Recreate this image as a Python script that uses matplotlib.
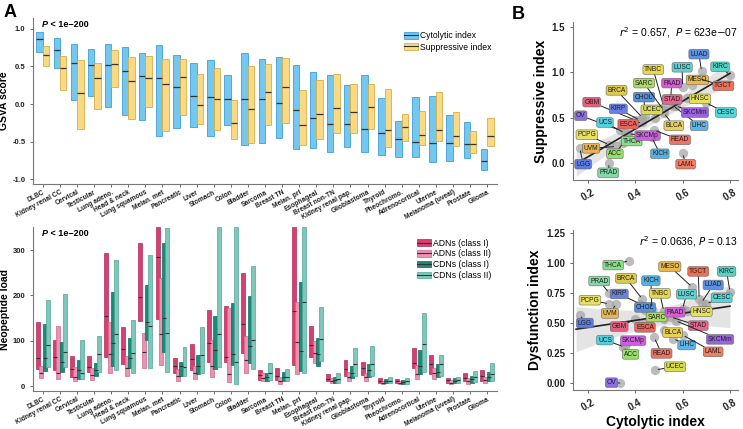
import numpy as np
import matplotlib
matplotlib.use("Agg")
import matplotlib.pyplot as plt
from matplotlib.patches import Patch
from matplotlib.lines import Line2D

plt.rcParams['font.family'] = ['Liberation Sans', 'DejaVu Sans']

# ---------------- panel A data ----------------
cancers = ["DLBC", "Kidney renal CC", "Cervical", "Testicular", "Lung adeno.", "Head & neck",
           "Lung squamous", "Melan. met", "Pancreatic", "Liver", "Stomach", "Colon", "Bladder",
           "Sarcoma", "Breast TN", "Melan. pri", "Esophageal", "Breast non-TN", "Kidney renal pap.",
           "Glioblastoma", "Thyroid", "Pheochromo.", "Adrenocortical", "Uterine",
           "Melanoma (uveal)", "Prostate", "Glioma"]

cyt_q3 = [0.96, 0.88, 0.80, 0.73, 0.79, 0.75, 0.68, 0.78, 0.65, 0.54, 0.58, 0.38, 0.68, 0.60,
          0.62, 0.52, 0.42, 0.39, 0.25, 0.38, 0.08, -0.22, 0.09, 0.10, -0.14, -0.24, -0.59]
cyt_med = [0.86, 0.72, 0.54, 0.52, 0.52, 0.44, 0.37, 0.35, 0.23, 0.11, 0.09, 0.07, 0.07, 0.06,
           0.02, -0.08, -0.18, -0.26, -0.27, -0.33, -0.38, -0.47, -0.50, -0.51, -0.51, -0.53, -0.75]
cyt_q1 = [0.69, 0.48, 0.05, 0.11, -0.04, -0.15, -0.21, -0.43, -0.32, -0.30, -0.43, -0.28, -0.54,
          -0.51, -0.45, -0.59, -0.58, -0.64, -0.57, -0.63, -0.67, -0.70, -0.70, -0.77, -0.76, -0.72, -0.88]
sup_q3 = [0.77, 0.63, 0.58, 0.55, 0.71, 0.62, 0.63, 0.60, 0.59, 0.40, 0.48, 0.05, 0.51, 0.53,
          0.61, 0.19, 0.32, 0.40, 0.27, 0.26, 0.20, -0.13, -0.09, 0.16, -0.10, -0.36, -0.19]
sup_med = [0.65, 0.48, 0.15, 0.35, 0.53, 0.30, 0.34, 0.27, 0.36, -0.01, 0.06, -0.25, -0.06, 0.16,
           0.22, -0.28, -0.13, -0.05, -0.10, -0.04, -0.35, -0.31, -0.41, -0.35, -0.42, -0.53, -0.42]
sup_q1 = [0.51, 0.19, -0.33, -0.06, 0.22, -0.20, -0.04, -0.36, -0.15, -0.27, -0.35, -0.46, -0.52,
          -0.28, -0.25, -0.54, -0.46, -0.38, -0.38, -0.33, -0.57, -0.49, -0.54, -0.49, -0.56, -0.65, -0.56]

# neopeptide load (q1, median, q3)
adn1_q3 = [141, 101, 67, 67, 293, 131, 315, 351, 61, 93, 168, 176, 250, 35, 39, 351, 132, 26, 57, 54, 17, 15, 83, 68, 18, 28, 35]
adn1_med = [62, 65, 37, 43, 155, 82, 197, 284, 45, 59, 94, 65, 137, 24, 23, 166, 90, 15, 37, 39, 11, 10, 51, 48, 13, 18, 22]
adn1_q1 = [38, 35, 21, 30, 65, 48, 144, 147, 29, 35, 52, 52, 72, 13, 13, 46, 65, 10, 22, 24, 6, 6, 39, 26, 7, 10, 12]
adn2_q3 = [45, 132, 43, 39, 142, 67, 118, 239, 37, 45, 101, 173, 110, 28, 21, 186, 100, 17, 30, 28, 11, 10, 46, 40, 13, 17, 21]
adn2_med = [29, 29, 21, 24, 70, 39, 74, 114, 23, 28, 45, 26, 57, 18, 10, 98, 72, 10, 21, 19, 7, 6, 26, 29, 7, 10, 13]
adn2_q1 = [17, 15, 10, 13, 28, 22, 40, 46, 11, 15, 21, 8, 29, 10, 4, 26, 50, 6, 10, 10, 4, 4, 15, 15, 4, 4, 6]
cdn1_q3 = [136, 97, 57, 50, 208, 105, 224, 315, 52, 69, 154, 184, 199, 28, 30, 230, 107, 21, 45, 49, 15, 13, 79, 49, 17, 22, 30]
cdn1_med = [62, 54, 35, 35, 96, 61, 142, 151, 44, 45, 79, 70, 89, 21, 21, 78, 71, 13, 29, 35, 10, 9, 45, 32, 11, 15, 21]
cdn1_q1 = [33, 30, 16, 23, 45, 39, 101, 74, 23, 26, 38, 46, 50, 11, 10, 34, 45, 7, 17, 19, 6, 5, 26, 21, 6, 7, 10]
cdn2_q3 = [190, 204, 101, 110, 279, 146, 289, 349, 87, 131, 350, 351, 265, 50, 37, 351, 175, 28, 83, 89, 21, 17, 162, 68, 19, 33, 50]
cdn2_med = [90, 74, 28, 71, 114, 72, 133, 116, 43, 68, 114, 52, 101, 28, 21, 186, 104, 15, 48, 48, 12, 10, 92, 49, 13, 21, 26]
cdn2_q1 = [43, 43, 15, 32, 35, 29, 40, 32, 23, 29, 43, 4, 38, 13, 10, 29, 55, 7, 23, 23, 6, 5, 32, 23, 6, 8, 10]

# ---------------- panel B data ----------------
codes = ["LGG", "PRAD", "PCPG", "UVM", "OV", "ACC", "UCS", "THCA", "GBM", "KIRP", "BRCA", "CHOL",
         "SKCMp", "ESCA", "UCEC", "KICH", "READ", "SARC", "TNBC", "BLCA", "PAAD", "STAD", "LIHC",
         "LAML", "SKCMm", "LUSC", "MESO", "HNSC", "TGCT", "LUAD", "CESC", "KIRC"]
cytolytic = [0.166, 0.29, 0.29, 0.32, 0.335, 0.35, 0.355, 0.375, 0.40, 0.42, 0.43, 0.44,
             0.37, 0.43, 0.485, 0.47, 0.48, 0.52, 0.52, 0.52, 0.55, 0.55, 0.56,
             0.60, 0.57, 0.60, 0.64, 0.62, 0.67, 0.68, 0.70, 0.80]
suppressive = [0.16, 0.0, 0.20, 0.18, 0.36, 0.22, 0.33, 0.27, 0.47, 0.47, 0.50, 0.52,
               0.32, 0.45, 0.50, 0.28, 0.36, 0.58, 0.62, 0.55, 0.72, 0.68, 0.63,
               0.107, 0.63, 0.84, 0.86, 0.72, 0.93, 1.01, 0.66, 0.97]
dysfunction = [0.57, 0.75, 0.66, 0.66, 0.0, 0.30, 0.30, 1.02, 0.53, 0.66, 0.70, 0.61,
               0.34, 0.50, 0.11, 0.62, 0.38, 0.53, 0.60, 0.44, 0.58, 0.55, 0.37,
               0.40, 0.52, 0.62, 0.80, 0.60, 0.70, 0.67, 0.66, 0.76]
label_colors = {"LGG": "#5b7be0", "PRAD": "#86d9a4", "PCPG": "#e6e064", "UVM": "#e8b650",
                "OV": "#8c6ee3", "ACC": "#95e066", "UCS": "#52d0de", "THCA": "#86e08a",
                "GBM": "#e2607f", "KIRP": "#6b80e3", "BRCA": "#dccb4e", "CHOL": "#5290e2",
                "SKCMp": "#d05fe0", "ESCA": "#f0625c", "UCEC": "#d9dd4c", "KICH": "#52b3e3",
                "READ": "#f07262", "SARC": "#aadb62", "TNBC": "#e9d84c", "BLCA": "#e9d054",
                "PAAD": "#d65cd8", "STAD": "#ea648c", "LIHC": "#5db3ea", "LAML": "#f07c62",
                "SKCMm": "#9b62e2", "LUSC": "#60d0d0", "MESO": "#e9b84d", "HNSC": "#e6e258",
                "TGCT": "#f26d52", "LUAD": "#5c90e2", "CESC": "#52d8d8", "KIRC": "#52d4c6"}

# label positions (layout only)
lab_top = {"LUAD": (0.669, 1.20), "LUSC": (0.598, 1.055), "KIRC": (0.758, 1.06), "TNBC": (0.476, 1.03),
           "MESO": (0.662, 0.915), "TGCT": (0.772, 0.85), "SARC": (0.437, 0.88), "PAAD": (0.554, 0.88),
           "BRCA": (0.321, 0.80), "HNSC": (0.673, 0.706), "STAD": (0.556, 0.70), "CHOL": (0.437, 0.725),
           "GBM": (0.216, 0.67), "KIRP": (0.328, 0.596), "UCEC": (0.469, 0.585), "SKCMm": (0.652, 0.555),
           "CESC": (0.783, 0.555), "OV": (0.170, 0.52), "UCS": (0.272, 0.445), "ESCA": (0.370, 0.427),
           "BLCA": (0.563, 0.41), "LIHC": (0.670, 0.41), "PCPG": (0.195, 0.31), "SKCMp": (0.452, 0.30),
           "READ": (0.589, 0.254), "THCA": (0.385, 0.240), "UVM": (0.213, 0.16), "ACC": (0.314, 0.10),
           "KICH": (0.504, 0.10), "LGG": (0.180, -0.015), "LAML": (0.613, -0.015), "PRAD": (0.286, -0.11)}
lab_bot = {"THCA": (0.307, 0.983), "PRAD": (0.248, 0.85), "BRCA": (0.361, 0.872), "KICH": (0.466, 0.853),
           "MESO": (0.546, 0.97), "TGCT": (0.666, 0.93), "KIRC": (0.786, 0.93), "LUAD": (0.729, 0.817),
           "PCPG": (0.208, 0.69), "KIRP": (0.332, 0.742), "TNBC": (0.504, 0.747), "LUSC": (0.617, 0.74),
           "CESC": (0.765, 0.71), "CHOL": (0.441, 0.63), "UVM": (0.293, 0.58), "HNSC": (0.680, 0.595),
           "PAAD": (0.568, 0.59), "SARC": (0.490, 0.55), "LGG": (0.187, 0.50), "STAD": (0.666, 0.478),
           "GBM": (0.332, 0.47), "ESCA": (0.441, 0.464), "BLCA": (0.558, 0.42), "SKCMm": (0.758, 0.364),
           "UCS": (0.272, 0.358), "SKCMp": (0.391, 0.353), "LIHC": (0.617, 0.317), "LAML": (0.729, 0.26),
           "READ": (0.511, 0.247), "ACC": (0.380, 0.239), "UCEC": (0.568, 0.136), "OV": (0.300, 0.003)}

W, H = 743, 429
fig = plt.figure(figsize=(7.43, 4.29), dpi=100)


def px_axes(l, t, r, b):
    return fig.add_axes([l / W, 1 - b / H, (r - l) / W, (b - t) / H])


def style(ax):
    for s in ["top", "right"]:
        ax.spines[s].set_visible(False)
    for s in ["left", "bottom"]:
        ax.spines[s].set_color("#777777")
        ax.spines[s].set_linewidth(0.8)
    ax.tick_params(colors="#555555", length=2, width=0.6)


def ptext(ax, x, y, rest, size):
    t = ax.text(x, y, "P", transform=ax.transAxes, fontsize=size, fontweight="bold",
                fontstyle="italic", va="top", ha="left")
    ax.annotate(rest, xy=(1, 0), xycoords=t, va="bottom", ha="left",
                fontsize=size, fontweight="bold")


x = np.arange(len(cancers))

# ---------- A top ----------
ax1 = px_axes(33, 18, 497, 184)
style(ax1)
blue_fc, blue_ec = "#74c7ef", "#3f9fd6"
yel_fc, yel_ec = "#f9d983", "#d6ad48"
w = 0.38
ax1.bar(x - 0.19, np.array(cyt_q3) - np.array(cyt_q1), bottom=cyt_q1, width=w,
        color=blue_fc, edgecolor=blue_ec, linewidth=0.6)
ax1.bar(x + 0.19, np.array(sup_q3) - np.array(sup_q1), bottom=sup_q1, width=w,
        color=yel_fc, edgecolor=yel_ec, linewidth=0.6)
ax1.hlines(cyt_med, x - 0.19 - w / 2, x - 0.19 + w / 2, color="#333333", lw=0.9)
ax1.hlines(sup_med, x + 0.19 - w / 2, x + 0.19 + w / 2, color="#333333", lw=0.9)
ax1.set_xlim(-0.58, len(cancers) - 0.42)
ax1.set_ylim(-1.06, 1.14)
ax1.set_yticks([-1.0, -0.5, 0.0, 0.5, 1.0])
ax1.set_yticklabels(["-1.0", "-0.5", "0.0", "0.5", "1.0"], fontsize=5.5, fontweight="bold", color="#222")
ax1.set_xticks(x)
ax1.set_xticklabels(cancers, rotation=28, ha="right", rotation_mode="anchor",
                    fontsize=4.8, fontweight="bold", color="#222")
ax1.tick_params(axis="x", pad=1.5)
ax1.set_ylabel("GSVA score", fontsize=7.5, fontweight="bold", labelpad=2)
ptext(ax1, 0.02, 0.985, " < 1e\u2212200", 6.5)
h1 = [(Patch(fc=blue_fc, ec=blue_ec, lw=0.6), Line2D([], [], color="#333", lw=0.8)),
      (Patch(fc=yel_fc, ec=yel_ec, lw=0.6), Line2D([], [], color="#333", lw=0.8))]
ax1.legend(h1, ["Cytolytic index", "Suppressive index"], loc="upper right",
           bbox_to_anchor=(1.0, 0.95), frameon=False, fontsize=6.2, handlelength=1.6,
           handleheight=0.8, labelspacing=0.25, borderpad=0.1, handletextpad=0.3)

# ---------- A bottom ----------
ax2 = px_axes(33, 227, 497, 391)
style(ax2)
series = [(adn1_q1, adn1_med, adn1_q3, "#d83f70", "#b02a58", -0.29),
          (adn2_q1, adn2_med, adn2_q3, "#ee90b0", "#cc6a8e", -0.10),
          (cdn1_q1, cdn1_med, cdn1_q3, "#1b8b78", "#0f6b5b", 0.10),
          (cdn2_q1, cdn2_med, cdn2_q3, "#80c7bb", "#4fa597", 0.29)]
bw = 0.23
for q1, med, q3, fc, ec, off in series:
    ax2.bar(x + off, np.array(q3) - np.array(q1), bottom=q1, width=bw,
            color=fc, edgecolor=ec, linewidth=0.5)
    ax2.hlines(med, x + off - bw / 2, x + off + bw / 2, color="#333333", lw=0.8)
ax2.set_xlim(-0.58, len(cancers) - 0.42)
ax2.set_ylim(-11, 351)
ax2.set_yticks([0, 100, 200, 300])
ax2.set_yticklabels(["0", "100", "200", "300"], fontsize=5.5, fontweight="bold", color="#222")
ax2.set_xticks(x)
ax2.set_xticklabels(cancers, rotation=28, ha="right", rotation_mode="anchor",
                    fontsize=4.8, fontweight="bold", color="#222")
ax2.tick_params(axis="x", pad=1.5)
ax2.set_ylabel("Neopeptide load", fontsize=7.5, fontweight="bold", labelpad=2)
ptext(ax2, 0.02, 0.985, " < 1e\u2212200", 6.5)
h2 = [(Patch(fc=s[3], ec=s[4], lw=0.5), Line2D([], [], color="#333", lw=0.8)) for s in series]
ax2.legend(h2, ["ADNs (class I)", "ADNs (class II)", "CDNs (class I)", "CDNs (class II)"],
           loc="upper right", bbox_to_anchor=(1.0, 0.96), frameon=False, fontsize=6.2,
           handlelength=1.6, handleheight=0.8, labelspacing=0.2, borderpad=0.1, handletextpad=0.3)

# ---------- B ----------
cx = np.array(cytolytic)


def scatter_panel(ax, yv, labpos, ylim, yticks, yticklabels, ylabel, note):
    style(ax)
    yv = np.array(yv)
    # regression line with 95% band
    b1, b0 = np.polyfit(cx, yv, 1)
    xs = np.linspace(0.15, 0.80, 100)
    n = len(cx)
    resid = yv - (b0 + b1 * cx)
    s = np.sqrt(np.sum(resid ** 2) / (n - 2))
    se = s * np.sqrt(1 / n + (xs - cx.mean()) ** 2 / np.sum((cx - cx.mean()) ** 2))
    ax.fill_between(xs, b0 + b1 * xs - 2.04 * se, b0 + b1 * xs + 2.04 * se,
                    color="#d9d9d9", alpha=0.7, lw=0, zorder=1)
    ax.scatter(cx, yv, s=45, color="#a6a6a6", alpha=0.75, lw=0, zorder=2)
    ax.plot(xs, b0 + b1 * xs, color="#222222", lw=1.2, zorder=3)
    for code, xv, yy in zip(codes, cx, yv):
        lx, ly = labpos[code]
        ax.annotate(code, xy=(xv, yy), xytext=(lx, ly), fontsize=4.8, ha="center", va="center",
                    color="#222", zorder=5,
                    bbox=dict(boxstyle="round,pad=0.2,rounding_size=0.3", fc=label_colors[code],
                              ec="#666666", lw=0.4),
                    arrowprops=dict(arrowstyle="-", color="#222", lw=0.7, shrinkA=0, shrinkB=2))
    ax.set_xlim(0.137, 0.834)
    ax.set_ylim(*ylim)
    ax.set_xticks([0.2, 0.4, 0.6, 0.8])
    ax.set_xticklabels(["0.2", "0.4", "0.6", "0.8"], rotation=30, fontsize=7, fontweight="bold",
                       color="#222")
    ax.set_yticks(yticks)
    ax.set_yticklabels(yticklabels, fontsize=7, fontweight="bold", color="#222")
    ax.set_ylabel(ylabel, fontsize=10, fontweight="bold", labelpad=3)
    ax.text(1.0, 0.93, note, transform=ax.transAxes, ha="right", va="center", fontsize=7.5)


ax3 = px_axes(573, 22, 738, 180)
scatter_panel(ax3, suppressive, lab_top, (-0.19, 1.555), [0.0, 0.5, 1.0, 1.5],
              ["0.0", "0.5", "1.0", "1.5"], "Suppressive index",
              r"$r^2$ = 0.657,  $P$ = 623e$-$07")

ax4 = px_axes(573, 230, 738, 390)
scatter_panel(ax4, dysfunction, lab_bot, (-0.058, 1.275), [0.0, 0.25, 0.5, 0.75, 1.0, 1.25],
              ["0.00", "0.25", "0.50", "0.75", "1.00", "1.25"], "Dysfunction index",
              r"$r^2$ = 0.0636, $P$ = 0.13")
ax4.set_xlabel("Cytolytic index", fontsize=10, fontweight="bold", labelpad=1)

fig.text(4 / W, 1 - 4 / H, "A", fontsize=13, fontweight="bold", va="top", ha="left")
fig.text(512 / W, 1 - 6 / H, "B", fontsize=13, fontweight="bold", va="top", ha="left")

fig.savefig("out.png", dpi=100)
